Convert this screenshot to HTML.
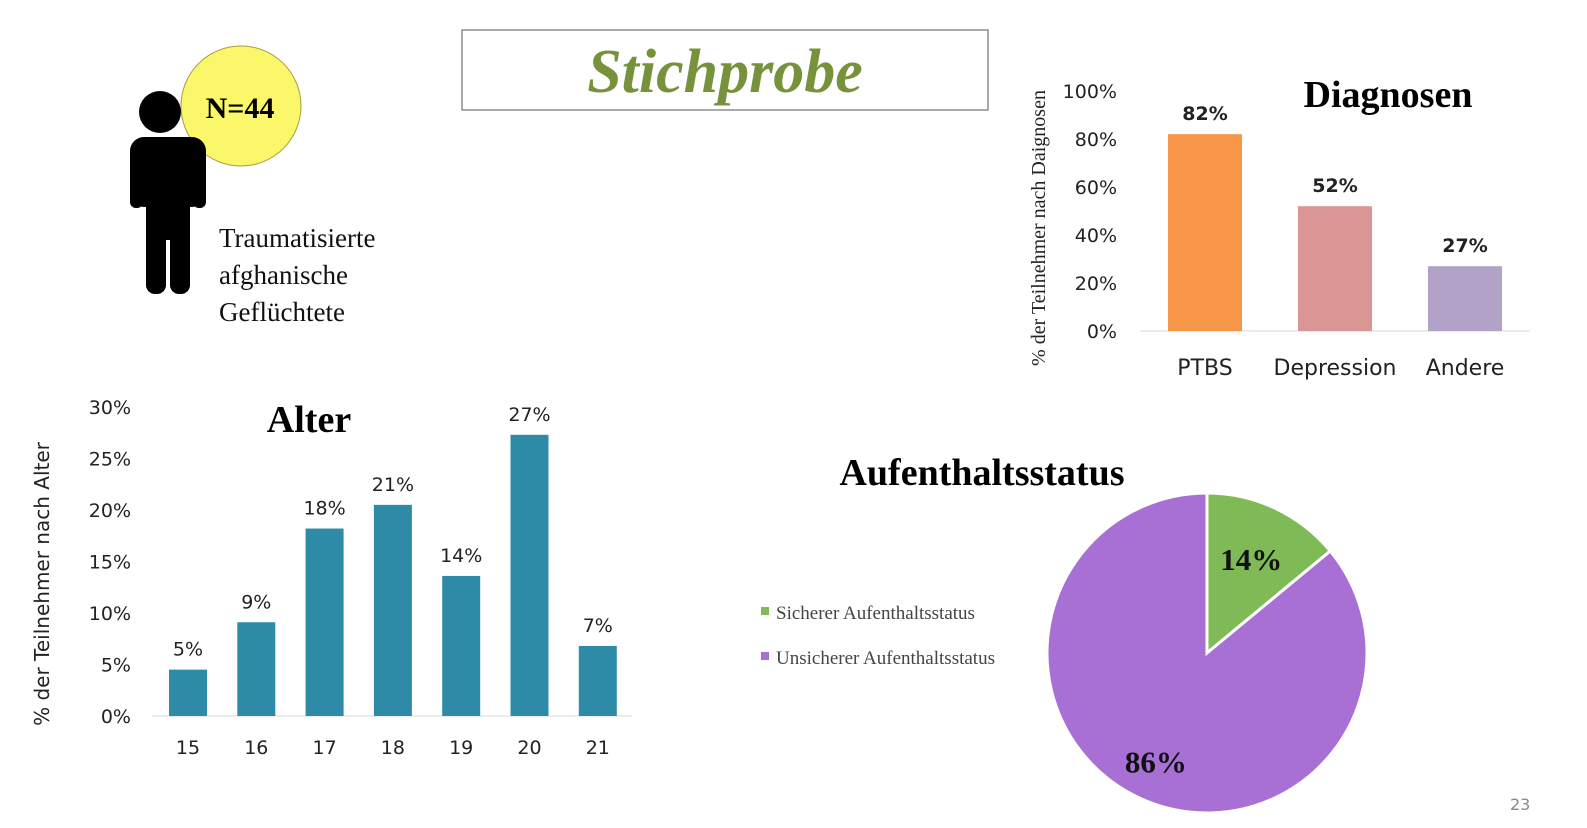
<!DOCTYPE html>
<html><head><meta charset="utf-8"><style>
body{margin:0;background:#fff;width:1587px;height:828px;overflow:hidden}
svg{display:block}
.s{font-family:"Liberation Serif",serif}
.a{font-family:"DejaVu Sans","Liberation Sans",sans-serif}
</style></head><body>
<svg width="1587" height="828">
<rect x="462" y="30" width="526" height="80" fill="#fff" stroke="#555" stroke-width="1"/>
<text x="725" y="92" text-anchor="middle" class="s" font-size="62" font-weight="bold" font-style="italic" fill="#76933c">Stichprobe</text>
<g>
<circle cx="241" cy="106" r="60" fill="#fbf76a" stroke="#a89a40" stroke-width="1"/>
<circle cx="160" cy="112" r="21" fill="#000"/>
<rect x="130" y="137" width="76" height="70" rx="14" fill="#000"/>
<rect x="130" y="150" width="13" height="58" rx="6" fill="#000"/>
<rect x="193" y="150" width="13" height="58" rx="6" fill="#000"/>
<rect x="146" y="160" width="44" height="80" fill="#000"/>
<rect x="146" y="200" width="20" height="94" rx="9" fill="#000"/>
<rect x="170" y="200" width="20" height="94" rx="9" fill="#000"/>
</g>
<text x="240" y="118" text-anchor="middle" class="s" font-size="30" font-weight="bold">N=44</text>
<text class="s" font-size="27" fill="#111"><tspan x="219" y="247">Traumatisierte</tspan><tspan x="219" y="284">afghanische</tspan><tspan x="219" y="321">Geflüchtete</tspan></text>
<g id="age"></g>
<g id="diag"></g>
<g id="pie"></g>
<text x="1510" y="810" class="a" font-size="16" fill="#888">23</text>
</svg>
<script>
const ageCats=["15","16","17","18","19","20","21"];
const ageVals=[4.5,9.1,18.2,20.5,13.6,27.3,6.8];
const ageLabels=["5%","9%","18%","21%","14%","27%","7%"];
const ageTicks=[0,5,10,15,20,25,30];
const diagCats=["PTBS","Depression","Andere"];
const diagVals=[82,52,27];
const diagColors=["#f79646","#d99694","#b3a2c7"];
const diagTicks=[0,20,40,60,80,100];
const pieCats=["Sicherer Aufenthaltsstatus","Unsicherer Aufenthaltsstatus"];
const pieVals=[14,86];
const pieColors=["#7fba57","#a86fd4"];
const NS="http://www.w3.org/2000/svg";
function mk(p,t,at,txt){const e=document.createElementNS(NS,t);for(const k in at)e.setAttribute(k,at[k]);if(txt!==undefined)e.textContent=txt;p.appendChild(e);return e;}
// Age
const ag=document.getElementById('age');
const ay=v=>716-v*(716-407)/30, ax=i=>188+i*68.3;
mk(ag,'line',{x1:152,x2:632,y1:716,y2:716,stroke:'#d9d9d9'});
ageTicks.forEach(t=>{const e=mk(ag,'text',{x:131,y:ay(t)+7,'text-anchor':'end','font-size':19,class:'a',fill:'#222'},t+'%');

});
ageVals.forEach((v,i)=>{const r=mk(ag,'rect',{x:ax(i)-19,y:ay(v),width:38,height:716-ay(v),fill:'#2e8ba8'});


const l=mk(ag,'text',{x:ax(i),y:ay(v)-14,'text-anchor':'middle','font-size':19,class:'a',fill:'#222'},ageLabels[i]);


const c=mk(ag,'text',{x:ax(i),y:754,'text-anchor':'middle','font-size':19,class:'a',fill:'#222'},ageCats[i]);

});
const at=mk(ag,'text',{x:309,y:432,'text-anchor':'middle','font-size':38,'font-weight':'bold',class:'s'},'Alter');


const ayt=mk(ag,'text',{x:0,y:0,transform:'translate(49,584) rotate(-90)','text-anchor':'middle','font-size':20,class:'a',fill:'#222'},'% der Teilnehmer nach Alter');


// Diagnoses
const dg=document.getElementById('diag');
const dy=v=>331-v*2.4, dx=i=>1205+i*130;
mk(dg,'line',{x1:1140,x2:1530,y1:331,y2:331,stroke:'#d9d9d9'});
diagTicks.forEach(t=>{const e=mk(dg,'text',{x:1117,y:dy(t)+7,'text-anchor':'end','font-size':19,class:'a',fill:'#222'},t+'%');

});
diagVals.forEach((v,i)=>{const r=mk(dg,'rect',{x:dx(i)-37,y:dy(v),width:74,height:331-dy(v),fill:diagColors[i]});


const l=mk(dg,'text',{x:dx(i),y:dy(v)-14,'text-anchor':'middle','font-size':19,'font-weight':'bold',class:'a',fill:'#222'},v+'%');


const c=mk(dg,'text',{x:dx(i),y:375,'text-anchor':'middle','font-size':22,class:'a',fill:'#222'},diagCats[i]);

});
const dt=mk(dg,'text',{x:1388,y:107,'text-anchor':'middle','font-size':38,'font-weight':'bold',class:'s'},'Diagnosen');


const dyt=mk(dg,'text',{x:0,y:0,transform:'translate(1045,228) rotate(-90)','text-anchor':'middle','font-size':20,class:'s',fill:'#222'},'% der Teilnehmer nach Daignosen');


// Pie
const pg=document.getElementById('pie');
const cx=1207,cy=653,R=160;
let tot=pieVals.reduce((a,b)=>a+b,0),ang=-Math.PI/2;
pieVals.forEach((v,i)=>{const a2=ang+v/tot*2*Math.PI;
const x1=cx+R*Math.cos(ang),y1=cy+R*Math.sin(ang),x2=cx+R*Math.cos(a2),y2=cy+R*Math.sin(a2);
const p=mk(pg,'path',{d:`M${cx},${cy} L${x1},${y1} A${R},${R} 0 ${a2-ang>Math.PI?1:0} 1 ${x2},${y2} Z`,fill:pieColors[i],stroke:'#fff','stroke-width':3});


const m=(ang+a2)/2,rr=i==0?R*0.65:R*0.75;
const l=mk(pg,'text',{x:cx+rr*Math.cos(m),y:cy+rr*Math.sin(m)+11,'text-anchor':'middle','font-size':31,'font-weight':'bold',class:'s',fill:'#111'},v+'%');


ang=a2;});
pieCats.forEach((c,i)=>{const y=613+i*45;
const s=mk(pg,'rect',{x:761,y:y-6,width:8,height:8,fill:pieColors[i]});


const t=mk(pg,'text',{x:776,y:y+6,'font-size':19,class:'s',fill:'#444'},c);

});
const pt=mk(pg,'text',{x:982,y:485,'text-anchor':'middle','font-size':38,'font-weight':'bold',class:'s'},'Aufenthaltsstatus');


</script>
</body></html>
